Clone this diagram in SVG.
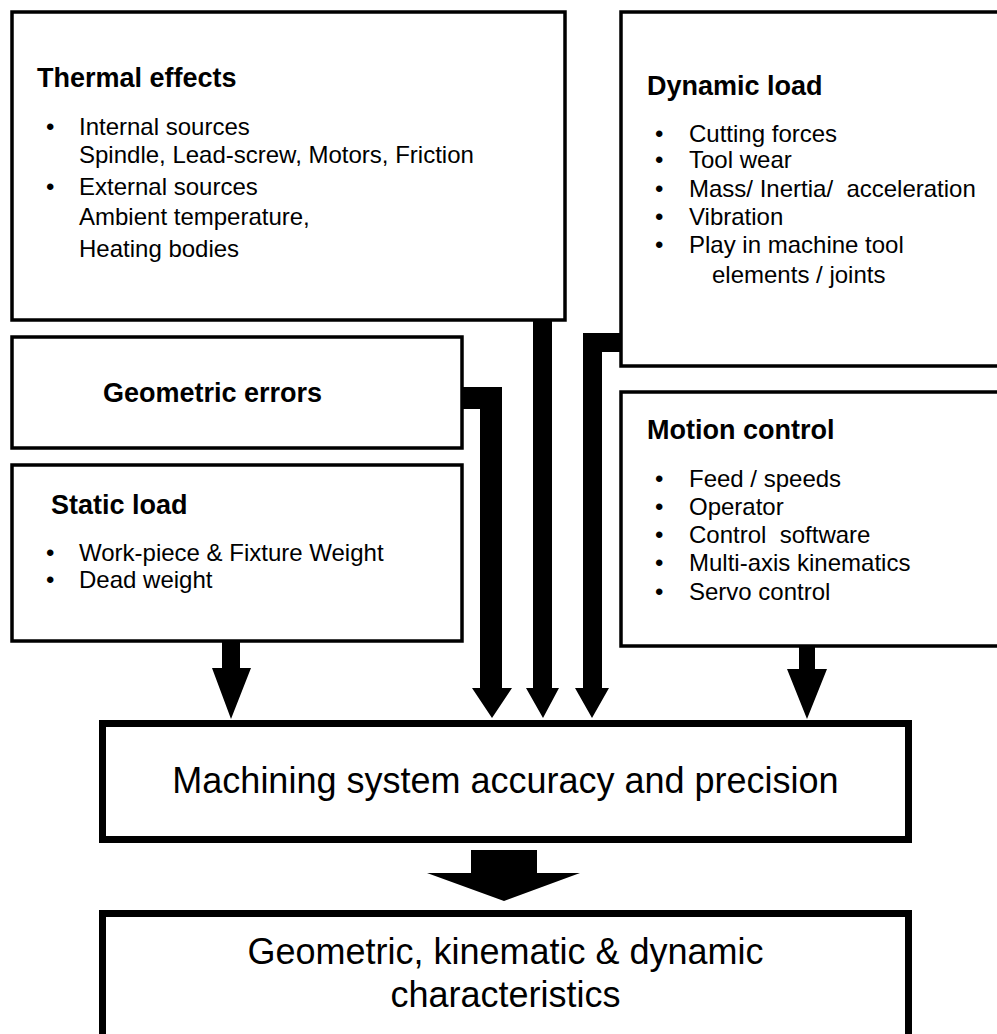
<svg xmlns="http://www.w3.org/2000/svg" width="997" height="1034" viewBox="0 0 997 1034">
<style>
.box{fill:#fff;stroke:#000;stroke-width:3.5}
.big{fill:#fff;stroke:#000;stroke-width:7}
text{font-family:"Liberation Sans",Arial,sans-serif;fill:#000}
.h{font-size:27px;font-weight:bold}
.b{font-size:24px}
.m{font-size:36px;text-anchor:middle}
.arr{fill:#000;stroke:none}
</style>
<rect width="997" height="1034" fill="#fff"/>
<g id="thermal">
<rect class="box" x="12" y="12" width="553" height="308"/>
<text class="h" x="37" y="87">Thermal effects</text>
<text class="b" x="46" y="135">•</text><text class="b" x="79" y="135">Internal sources</text>
<text class="b" x="79" y="163">Spindle, Lead-screw, Motors, Friction</text>
<text class="b" x="46" y="195">•</text><text class="b" x="79" y="195">External sources</text>
<text class="b" x="79" y="225">Ambient temperature,</text>
<text class="b" x="79" y="257">Heating bodies</text>
</g>
<g id="dynamic">
<rect class="box" x="621" y="12" width="400" height="354"/>
<text class="h" x="647" y="95">Dynamic load</text>
<text class="b" x="655" y="142">•</text><text class="b" x="689" y="142">Cutting forces</text>
<text class="b" x="655" y="168">•</text><text class="b" x="689" y="168">Tool wear</text>
<text class="b" x="655" y="197">•</text><text class="b" x="689" y="197" xml:space="preserve">Mass/ Inertia/  acceleration</text>
<text class="b" x="655" y="225">•</text><text class="b" x="689" y="225">Vibration</text>
<text class="b" x="655" y="253">•</text><text class="b" x="689" y="253">Play in machine tool</text>
<text class="b" x="712" y="283">elements / joints</text>
</g>
<g id="geometric">
<rect class="box" x="12" y="337" width="450" height="111"/>
<text class="h" x="103" y="402">Geometric errors</text>
</g>
<g id="static">
<rect class="box" x="12" y="465" width="450" height="176"/>
<text class="h" x="51" y="514">Static load</text>
<text class="b" x="46" y="561">•</text><text class="b" x="79" y="561">Work-piece &amp; Fixture Weight</text>
<text class="b" x="46" y="588">•</text><text class="b" x="79" y="588">Dead weight</text>
</g>
<g id="motion">
<rect class="box" x="621" y="392" width="400" height="254"/>
<text class="h" x="647" y="439">Motion control</text>
<text class="b" x="655" y="487">•</text><text class="b" x="689" y="487">Feed / speeds</text>
<text class="b" x="655" y="515">•</text><text class="b" x="689" y="515">Operator</text>
<text class="b" x="655" y="543">•</text><text class="b" x="689" y="543" xml:space="preserve">Control  software</text>
<text class="b" x="655" y="571">•</text><text class="b" x="689" y="571">Multi-axis kinematics</text>
<text class="b" x="655" y="600">•</text><text class="b" x="689" y="600">Servo control</text>
</g>
<g id="connectors">
<polygon class="arr" points="222,641 240,641 240,668 251,668 231,719 212,668 222,668"/>
<polygon class="arr" points="463,387 502,387 502,688 512,688 492,718 472,688 480,688 480,409 463,409"/>
<polygon class="arr" points="533,320 552,320 552,688 559,688 543,718 526,688 533,688"/>
<polygon class="arr" points="622,333 583,333 583,688 575,688 592,718 609,688 602,688 602,352 622,352"/>
<polygon class="arr" points="799,647 815,647 815,669 827,669 807,719 787,669 799,669"/>
<polygon class="arr" points="471,850 537,850 537,873 580,873 504,901 427,873 471,873"/>
</g>
<g id="accuracy">
<rect class="big" x="102.5" y="723.5" width="806" height="116"/>
<text class="m" x="505.5" y="793">Machining system accuracy and precision</text>
</g>
<g id="characteristics">
<rect class="big" x="102.5" y="913.5" width="806" height="200"/>
<text class="m" x="505.5" y="964">Geometric, kinematic &amp; dynamic</text>
<text class="m" x="505.5" y="1007">characteristics</text>
</g>
</svg>
